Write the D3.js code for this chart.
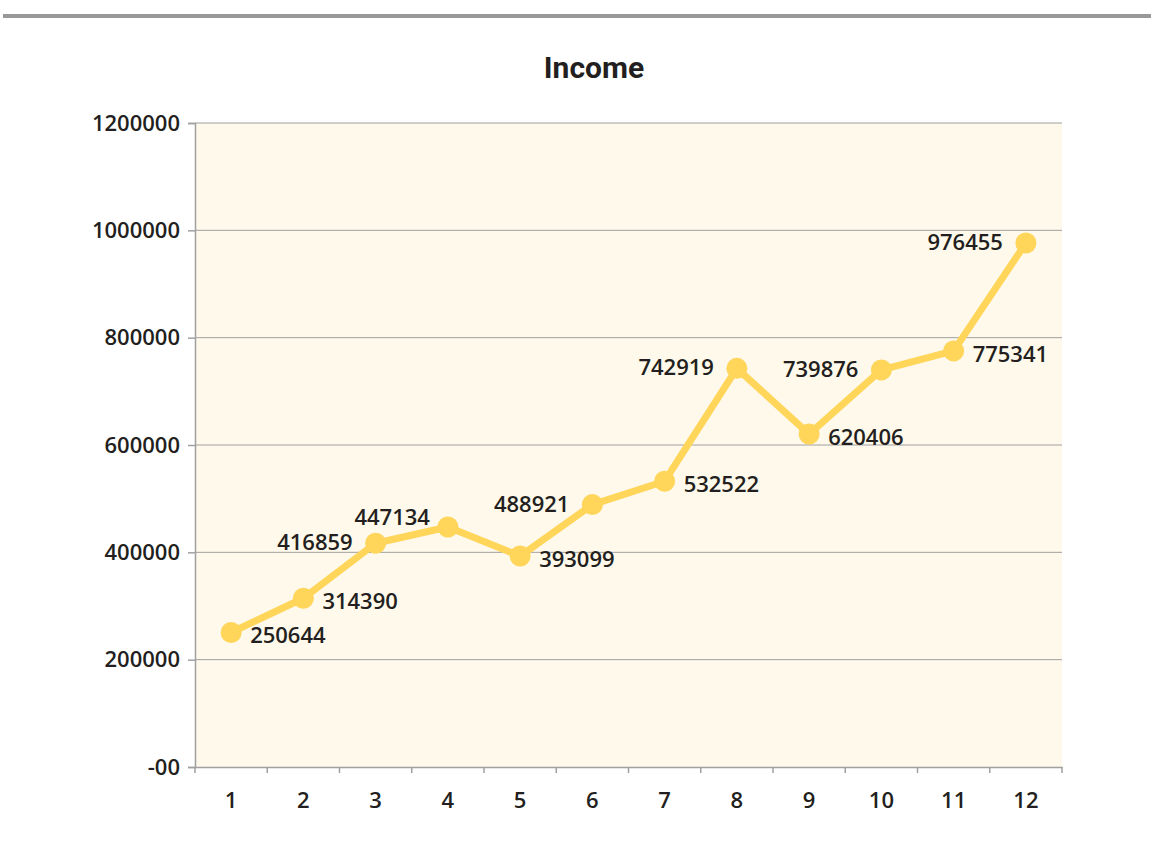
<!DOCTYPE html>
<html>
<head>
<meta charset="utf-8">
<script src="https://cdn.jsdelivr.net/npm/d3@7"></script>
<style>
  body { margin: 0; background: #fff; }
  text { font-family: "Open Sans", sans-serif; fill: #231f20; }
</style>
</head>
<body>
<div id="chart"></div>
<script>
// income per period
const periods = ["1", "2", "3", "4", "5", "6", "7", "8", "9", "10", "11", "12"];
const income = [250644, 314390, 416859, 447134, 393099, 488921, 532522, 742919, 620406, 739876, 775341, 976455];
const yTicks = [0, 200000, 400000, 600000, 800000, 1000000, 1200000];

// where each value label sits relative to its point
const labelSide = ["right", "right", "left", "upleft", "right", "left", "right", "left", "right", "left", "right", "left"];

const width = 1151, height = 861;
const margin = {top: 123, right: 89, bottom: 94, left: 195};
const w = width - margin.left - margin.right;
const h = height - margin.top - margin.bottom;

const svg = d3.select("#chart").append("svg")
    .attr("width", width)
    .attr("height", height);

// grey rule along the top
svg.append("line")
    .attr("x1", 3).attr("x2", width)
    .attr("y1", 16).attr("y2", 16)
    .style("stroke", "#999999")
    .style("stroke-width", 4);

svg.append("text")
    .attr("x", 594)
    .attr("y", 78)
    .attr("text-anchor", "middle")
    .style("font-family", "Roboto, sans-serif")
    .style("font-size", "30px")
    .style("font-weight", 700)
    .text("Income");

const g = svg.append("g")
    .attr("transform", `translate(${margin.left},${margin.top})`);

const x = d3.scaleBand().domain(periods).range([0, w]);
const y = d3.scaleLinear().domain([0, 1200000]).range([h, 0]);

g.append("rect")
    .attr("width", w).attr("height", h)
    .style("fill", "#fef9ea");

// gridlines
g.selectAll(".grid")
    .data(yTicks.filter(d => d > 0))
    .enter().append("line")
    .attr("x1", 0).attr("x2", w)
    .attr("y1", d => y(d)).attr("y2", d => y(d))
    .style("stroke", "#a0a0a0")
    .style("stroke-width", 1);

const yAxis = g.append("g")
    .call(d3.axisLeft(y).tickValues(yTicks).tickSize(7).tickPadding(8)
        .tickFormat(d => d === 0 ? "-00" : d3.format("d")(d)));

const xAxis = g.append("g")
    .attr("transform", `translate(0,${h})`)
    .call(d3.axisBottom(x).tickSize(0).tickPadding(25));

// ticks on the category boundaries
xAxis.selectAll(".bound")
    .data(d3.range(periods.length + 1))
    .enter().append("line")
    .attr("class", "bound")
    .attr("x1", i => i * x.step()).attr("x2", i => i * x.step())
    .attr("y1", 0).attr("y2", 6);

[yAxis, xAxis].forEach(a => {
    a.selectAll("path, line").style("stroke", "#a0a0a0").style("stroke-width", 1.5);
    a.selectAll("text")
        .style("font-size", "22px")
        .style("font-weight", 600)
        .style("fill", "#231f20");
});

const line = d3.line()
    .x((d, i) => x(periods[i]) + x.bandwidth() / 2)
    .y(d => y(d));

g.append("path")
    .datum(income)
    .attr("d", line)
    .style("fill", "none")
    .style("stroke", "#ffd55a")
    .style("stroke-width", 7)
    .style("stroke-linejoin", "round");

g.selectAll("circle")
    .data(income)
    .enter().append("circle")
    .attr("cx", (d, i) => x(periods[i]) + x.bandwidth() / 2)
    .attr("cy", d => y(d))
    .attr("r", 10.5)
    .style("fill", "#ffd55a");

const offsets = {
    right: {dx: 19, dy: 3, anchor: "start"},
    left: {dx: -23, dy: -1, anchor: "end"},
    upleft: {dx: -18, dy: -10, anchor: "end"}
};

g.selectAll(".val")
    .data(income)
    .enter().append("text")
    .attr("class", "val")
    .attr("x", (d, i) => x(periods[i]) + x.bandwidth() / 2 + offsets[labelSide[i]].dx)
    .attr("y", (d, i) => y(d) + offsets[labelSide[i]].dy + 8)
    .attr("text-anchor", (d, i) => offsets[labelSide[i]].anchor)
    .style("font-size", "22px")
    .style("font-weight", 600)
    .text(d => d);
</script>
</body>
</html>
